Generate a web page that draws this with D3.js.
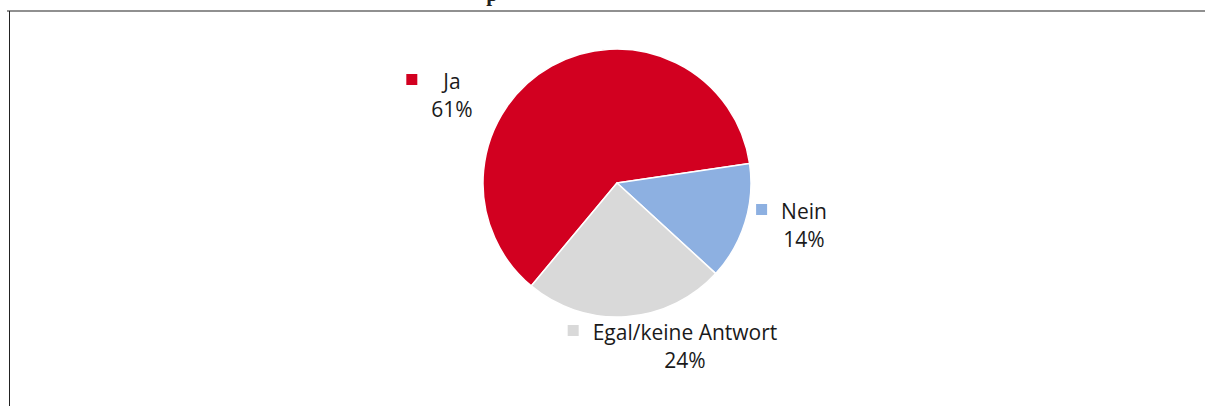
<!DOCTYPE html>
<html>
<head>
<meta charset="utf-8">
<script src="https://cdn.jsdelivr.net/npm/d3@7"></script>
<style>
  html, body { margin: 0; padding: 0; background: #fff; }
  svg { display: block; }
</style>
</head>
<body>
<svg id="chart"></svg>
<script>
// data
var categories = ["Ja", "Nein", "Egal/keine Antwort"];
var shares = [61, 14, 24];
var shareLabels = ["61%", "14%", "24%"];
var sliceColors = ["#d20020", "#8db0e1", "#d9d9d9"];

var params = {
    width: 1205,
    height: 406,
    cx: 617,
    cy: 183,
    radius: 134,
    startDeg: -140.2,
    fontFamily: "'Open Sans', 'Noto Sans', sans-serif",
    fontSize: 21,
    textColor: "#1a1a1a",
    keySize: 11,
    keyGap: 14
};
// label block centres relative to the pie centre
var labelAnchors = [[-165, -88], [187, 42], [68, 163]];

var svg = d3.select("#chart")
    .attr("width", params.width)
    .attr("height", params.height);

// frame remains of the original page
svg.append("line")
    .attr("x1", 7).attr("x2", params.width)
    .attr("y1", 11).attr("y2", 11)
    .attr("stroke", "#909090").attr("stroke-width", 2);
svg.append("line")
    .attr("x1", 9.5).attr("x2", 9.5)
    .attr("y1", 11).attr("y2", params.height)
    .attr("stroke", "#222").attr("stroke-width", 1);
// cropped title (only the descender is visible, as in the reference)
svg.append("text")
    .attr("x", 492).attr("y", 0.5)
    .attr("text-anchor", "middle")
    .attr("font-family", "'Liberation Serif', serif")
    .attr("font-weight", "bold")
    .attr("font-size", 21)
    .attr("fill", "#222")
    .text("p");

var data = categories.map(function(c, i) {
    return { name: c, value: shares[i], label: shareLabels[i], color: sliceColors[i] };
});

var start = params.startDeg * Math.PI / 180;
var pie = d3.pie()
    .sort(null)
    .value(function(d) { return d.value; })
    .startAngle(start)
    .endAngle(start + 2 * Math.PI);

var arc = d3.arc().innerRadius(0).outerRadius(params.radius);

var pieGroup = svg.append("g")
    .attr("transform", "translate(" + params.cx + "," + params.cy + ")");

pieGroup.selectAll("path")
    .data(pie(data))
    .enter()
    .append("path")
    .attr("d", arc)
    .attr("fill", function(d) { return d.data.color; })
    .attr("stroke", "#fff")
    .attr("stroke-width", 1.5)
    .attr("stroke-linejoin", "round");

// labels: legend key + category, value on second line
var labels = pieGroup.selectAll("g.label")
    .data(data)
    .enter()
    .append("g")
    .attr("class", "label")
    .attr("transform", function(d, i) {
        return "translate(" + labelAnchors[i][0] + "," + labelAnchors[i][1] + ")";
    });

labels.each(function(d) {
    var g = d3.select(this);
    var t1 = g.append("text")
        .attr("x", 0).attr("y", -6)
        .attr("text-anchor", "middle")
        .attr("font-family", params.fontFamily)
        .attr("font-size", params.fontSize)
        .attr("fill", params.textColor)
        .text(d.name);
    var t2 = g.append("text")
        .attr("x", 0).attr("y", 21.5)
        .attr("text-anchor", "middle")
        .attr("font-family", params.fontFamily)
        .attr("font-size", params.fontSize)
        .attr("fill", params.textColor)
        .text(d.label);
    var w = Math.max(t1.node().getComputedTextLength(), t2.node().getComputedTextLength());
    g.append("rect")
        .attr("x", -w / 2 - params.keyGap - params.keySize)
        .attr("y", -6 - 15)
        .attr("width", params.keySize)
        .attr("height", params.keySize)
        .attr("fill", d.color);
});
</script>
</body>
</html>
